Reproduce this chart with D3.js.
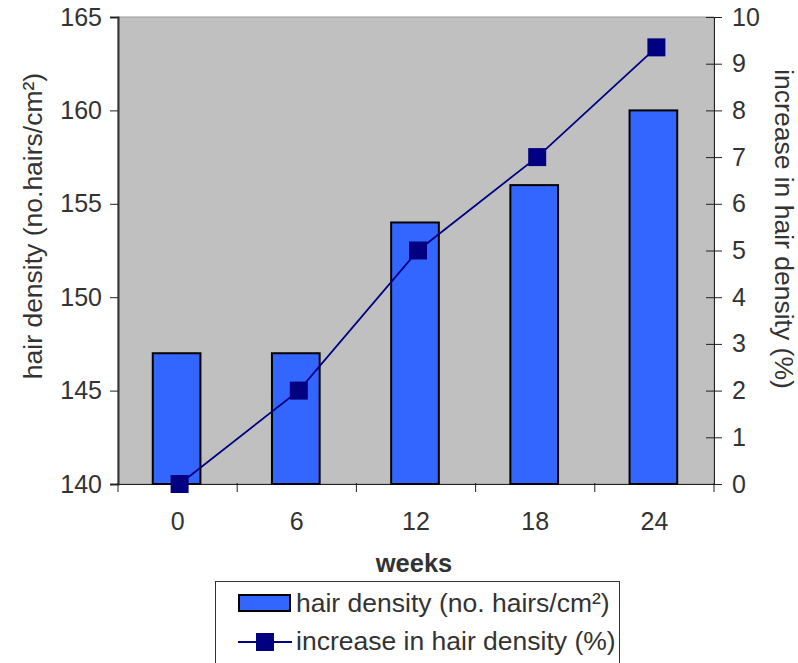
<!DOCTYPE html>
<html>
<head>
<meta charset="utf-8">
<script src="https://cdn.jsdelivr.net/npm/d3@7"></script>
<style>
  body { margin:0; background:#fff; }
  text { font-family: "Liberation Sans", Arial, sans-serif; fill:#333; }
</style>
</head>
<body>
<svg id="chart" width="798" height="663"></svg>
<script>
var weeks = ["0", "6", "12", "18", "24"];
var density = [147, 147, 154, 156, 160];
var increase = [0, 2, 5, 7, 9.35];
var leftTicks = [140, 145, 150, 155, 160, 165];
var rightTicks = [0, 1, 2, 3, 4, 5, 6, 7, 8, 9, 10];

var svg = d3.select("#chart");
var pL = 118, pR = 714, pT = 17, pB = 484;
var fs = "25px", fsT = "26.5px";

var x = d3.scaleBand().domain(weeks).range([pL, pR]);
var yL = d3.scaleLinear().domain([140, 165]).range([pB, pT]);
var yR = d3.scaleLinear().domain([0, 10]).range([pB, pT]);

// plot background
svg.append("rect").attr("x", pL).attr("y", pT).attr("width", pR-pL).attr("height", pB-pT)
  .attr("fill", "#c0c0c0").attr("stroke", "#999").attr("stroke-width", 1);

// left axis
var gl = svg.append("g").attr("transform", "translate(" + pL + ",0)")
  .call(d3.axisLeft(yL).tickValues(leftTicks).tickSize(8).tickPadding(8));
gl.select(".domain").attr("stroke", "#333").attr("stroke-width", 2);
gl.selectAll("line").attr("stroke", "#222");
gl.selectAll("text").style("font-size", fs).attr("fill", "#333").style("font-family", "Liberation Sans, Arial, sans-serif");

// right axis
var gr = svg.append("g").attr("transform", "translate(" + pR + ",0)")
  .call(d3.axisRight(yR).tickValues(rightTicks).tickSize(8).tickPadding(10));
gr.select(".domain").attr("stroke", "#222").attr("stroke-width", 1);
gr.selectAll(".tick line").attr("x1", -8).attr("stroke", "#222");
gr.selectAll("text").style("font-size", fs).attr("fill", "#333").style("font-family", "Liberation Sans, Arial, sans-serif");

// bottom axis with ticks at category boundaries
var gb = svg.append("g").attr("transform", "translate(0," + pB + ")")
  .call(d3.axisBottom(x).tickSize(0).tickPadding(28));
gb.select(".domain").attr("stroke", "#222");
gb.selectAll("text").style("font-size", fs).attr("fill", "#333").style("font-family", "Liberation Sans, Arial, sans-serif");
var bounds = weeks.map(function(d){ return x(d); }).concat([pR]);
gb.selectAll(".bound").data(bounds).enter().append("line").attr("class", "bound")
  .attr("x1", function(d){ return d; }).attr("x2", function(d){ return d; })
  .attr("y1", -1).attr("y2", 8).attr("stroke", "#222");

// bars
var bw = x.bandwidth() * 0.4;
svg.append("g").selectAll("rect").data(density).enter().append("rect")
  .attr("x", function(d, i){ return x(weeks[i]) + x.bandwidth()/2 - bw/2 - 1; })
  .attr("y", function(d){ return yL(d); })
  .attr("width", bw)
  .attr("height", function(d){ return pB - yL(d); })
  .attr("fill", "#3366ff").attr("stroke", "#000").attr("stroke-width", 2);

// line
var line = d3.line()
  .x(function(d, i){ return x(weeks[i]) + x.bandwidth()/2 + 2; })
  .y(function(d){ return yR(d); });
svg.append("path").datum(increase).attr("d", line)
  .attr("fill", "none").attr("stroke", "#000080").attr("stroke-width", 1.8);
svg.append("g").selectAll("rect").data(increase).enter().append("rect")
  .attr("x", function(d, i){ return x(weeks[i]) + x.bandwidth()/2 + 2 - 9; })
  .attr("y", function(d){ return yR(d) - 9; })
  .attr("width", 18).attr("height", 18).attr("fill", "#000080");

// axis titles
svg.append("text").attr("transform", "translate(42,226) rotate(-90)")
  .attr("text-anchor", "middle").style("font-size", fsT).text("hair density (no.hairs/cm²)");
svg.append("text").attr("transform", "translate(775,229) rotate(90)")
  .attr("text-anchor", "middle").style("font-size", fsT).text("increase in hair density (%)");
svg.append("text").attr("x", 414).attr("y", 572).attr("text-anchor", "middle")
  .style("font-size", "25.5px").style("font-weight", "bold").text("weeks");

// legend
var lg = svg.append("g");
lg.append("rect").attr("x", 215.5).attr("y", 581.5).attr("width", 404).attr("height", 100)
  .attr("fill", "#fff").attr("stroke", "#333");
lg.append("rect").attr("x", 239).attr("y", 595).attr("width", 51).attr("height", 16)
  .attr("fill", "#3366ff").attr("stroke", "#000").attr("stroke-width", 2);
lg.append("line").attr("x1", 238).attr("x2", 292).attr("y1", 642).attr("y2", 642)
  .attr("stroke", "#000080").attr("stroke-width", 1.8);
lg.append("rect").attr("x", 256).attr("y", 633).attr("width", 18).attr("height", 18).attr("fill", "#000080");
lg.append("text").attr("x", 296).attr("y", 612).style("font-size", fsT).text("hair density (no. hairs/cm²)");
lg.append("text").attr("x", 296).attr("y", 650).style("font-size", fsT).text("increase in hair density (%)");
</script>
</body>
</html>
